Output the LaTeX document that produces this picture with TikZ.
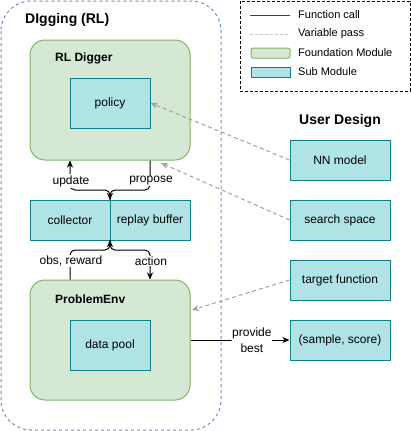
\documentclass[tikz,border=0pt]{standalone}
\usepackage{fontspec}
\setmainfont{Liberation Sans}
\usetikzlibrary{arrows.meta}
\definecolor{fgreen}{HTML}{82B366}
\definecolor{lgreen}{HTML}{D5E8D4}
\definecolor{bstroke}{HTML}{0E8088}
\definecolor{lblue}{HTML}{B0E3E6}
\definecolor{cblue}{HTML}{6C8EBF}
\definecolor{dgray}{HTML}{A0A0A0}
\definecolor{lgray}{HTML}{C8C8C8}
\tikzset{
  found/.style={draw=fgreen, fill=lgreen, rounded corners=15pt, line width=1pt, minimum width=160pt, minimum height=120pt, inner sep=0pt},
  sub/.style={draw=bstroke, fill=lblue, line width=1pt, inner sep=0pt, font=\fontsize{12}{14}\selectfont},
  ttl/.style={font=\bfseries\fontsize{12}{14}\selectfont, anchor=west, inner sep=0pt},
  big/.style={font=\bfseries\fontsize{14}{16}\selectfont, inner sep=0pt},
  lbl/.style={font=\fontsize{12}{14}\selectfont, fill=white, inner sep=1pt},
  leg/.style={font=\fontsize{11}{13}\selectfont, anchor=west, inner sep=0pt},
  call/.style={line width=1pt, -{Stealth[length=7pt,width=6pt,inset=2pt]}, rounded corners=5pt},
  pass/.style={dgray, line width=1pt, dashed, dash pattern=on 4pt off 3pt, -{Stealth[length=7pt,width=6pt,inset=2pt]}},
}
\begin{document}
\begin{tikzpicture}[x=1pt,y=-1pt]
\useasboundingbox (0,0) rectangle (411,431);
% outer container
\draw[cblue, line width=1pt, dashed, dash pattern=on 3pt off 3pt, rounded corners=30pt] (1,1) rectangle (221,430);
\node[big, anchor=west] (digt) at (25,20) {DIgging (RL)};
% RL Digger
\node[found] (rld) at (110,100) {};
\node[ttl] (rldt) at (55,58) {RL Digger};
\node[sub, minimum width=80pt, minimum height=50pt] (policy) at (110,103) {policy};
% collector / replay buffer
\node[sub, minimum width=80pt, minimum height=40pt] (coll) at (70,220) {collector};
\node[sub, minimum width=80pt, minimum height=40pt] (repl) at (150,220) {replay buffer};
\coordinate (mtop) at (110,200);
\coordinate (mbot) at (110,240);
% ProblemEnv
\node[found] (pe) at (110,340) {};
\node[ttl] (pet) at (55,299) {ProblemEnv};
\node[sub, minimum width=80pt, minimum height=50pt] (dp) at (110,345) {data pool};
% connectors between
\draw[call] (mtop) -- (110,190) -- (70,190) -- (rld.south -| 70,0);
\draw[call] (rld.south -| 150,0) -- (150,190) -- (110,190) -- (mtop);
\node[lbl] (upd) at (71,181) {update};
\node[lbl] (prop) at (151,181) {propose};
\draw[call] (pe.north -| 70,0) -- (70,250) -- (110,250) -- (mbot);
\draw[call] (mbot) -- (110,250) -- (150,250) -- (pe.north -| 150,0);
\node[lbl] (obs) at (71,261) {obs, reward};
\node[lbl] (act) at (151,261) {action};
% user design
\node[big] (ud) at (340,121) {User Design};
\node[sub, minimum width=100pt, minimum height=40pt] (nn) at (340,160) {NN model};
\node[sub, minimum width=100pt, minimum height=40pt] (ss) at (340,220) {search space};
\node[sub, minimum width=100pt, minimum height=40pt] (tf) at (340,280) {target function};
\node[sub, minimum width=100pt, minimum height=40pt] (sc) at (340,340) {(sample, score)};
\coordinate (sstip) at (161,163);
\coordinate (tftip) at (192,310);
\draw[pass] (nn.west) -- (policy.east);
\draw[pass] (ss.west) -- (sstip);
\draw[pass] (tf.west) -- (tftip);
\draw[call] (pe.east |- sc.west) -- node[lbl, pos=0.62, align=center, font=\fontsize{12}{16}\selectfont, inner sep=0.5pt] (pb) {provide\\best} (sc.west);
% legend
\draw[black, line width=1pt, dashed, dash pattern=on 3pt off 2pt] (240,1) rectangle (410,91);
\coordinate (l1a) at (250,15); \coordinate (l1b) at (290,15);
\draw[black!75, line width=1pt] (l1a) -- (l1b);
\node[leg] (lg1) at (298,15) {Function call};
\coordinate (l2a) at (250,34); \coordinate (l2b) at (290,34);
\draw[lgray, line width=1pt, dash pattern=on 3pt off 2pt] (l2a) -- (l2b);
\node[leg] (lg2) at (298,34) {Variable pass};
\draw[draw=fgreen, fill=lgreen, line width=1pt, rounded corners=2pt] (251,48) rectangle (290,58);
\node[leg] (lg3) at (298,53) {Foundation Module};
\draw[draw=bstroke, fill=lblue, line width=1pt] (251,67) rectangle (290,77);
\node[leg] (lg4) at (298,72) {Sub Module};
\end{tikzpicture}
\end{document}
